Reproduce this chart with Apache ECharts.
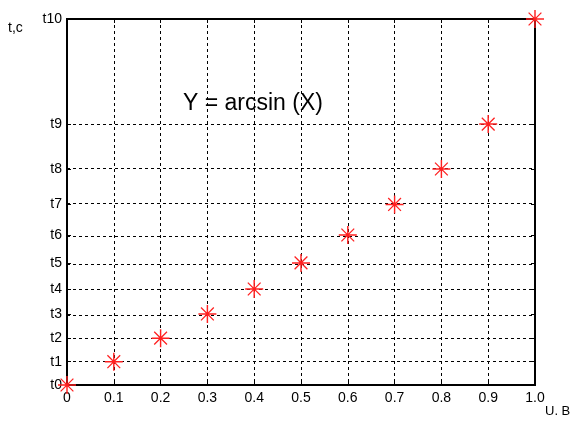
<!DOCTYPE html>
<html><head><meta charset="utf-8">
<script src="https://cdn.jsdelivr.net/npm/echarts@6/dist/echarts.min.js"></script>
<style>html,body{margin:0;padding:0;background:#fff}#c{width:572px;height:423px}</style>
</head><body><div id="c"></div>
<script>
// data
var xValues = [0, 0.1, 0.2, 0.3, 0.4, 0.5, 0.6, 0.7, 0.8, 0.9, 1.0];
var yValues = [0, 0.100, 0.201, 0.305, 0.412, 0.524, 0.644, 0.775, 0.927, 1.120, 1.571];
var yTickLabels = ['t0','t1','t2','t3','t4','t5','t6','t7','t8','t9','t10'];
var titleText = 'Y = arcsin (X)';
var xName = 'U. B';
var yName = 't,c';

var points = xValues.map(function(x, i){ return [x, yValues[i]]; });
var starPath = 'path://M0 46 H100 V54 H0 Z M46 0 H54 V100 H46 Z M12 17 L17 12 L88 83 L83 88 Z M83 12 L88 17 L17 88 L12 83 Z';
var font = 'Liberation Sans, Arial, sans-serif';
var yMax = yValues[yValues.length-1];

var chart = echarts.init(document.getElementById('c'), null, {renderer:'canvas'});
chart.setOption({
  animation: false,
  backgroundColor: '#fff',
  grid: {left: 67, right: 37, top: 19, bottom: 38, show: true, borderColor: '#000', borderWidth: 2, backgroundColor: 'transparent'},
  xAxis: [{
    type: 'value', min: 0, max: 1, interval: 0.1,
    axisLine: {show: true, onZero: false, lineStyle: {color: '#000', width: 2}},
    axisTick: {show: true, inside: true, length: 4, lineStyle: {color: '#000'}},
    axisLabel: {color: '#000', fontFamily: font, fontSize: 14, margin: 6,
      formatter: function(v){ return v === 0 ? '0' : v.toFixed(1); }},
    splitLine: {show: true, lineStyle: {color: '#000', type: [3, 3], width: 1}}
  }, {
    type: 'value', position: 'top', min: 0, max: 1, interval: 0.1,
    axisLine: {show: true, onZero: false, lineStyle: {color: '#000', width: 2}},
    axisTick: {show: true, inside: true, length: 4, lineStyle: {color: '#000'}},
    axisLabel: {show: false}, splitLine: {show: false}
  }],
  yAxis: [{
    type: 'value', min: 0, max: yMax,
    axisLine: {show: true, onZero: false, lineStyle: {color: '#000', width: 2}},
    axisTick: {show: true, inside: true, length: 4, customValues: yValues, lineStyle: {color: '#000'}},
    axisLabel: {color: '#000', fontFamily: font, fontSize: 14, margin: 5, customValues: yValues,
      formatter: function(v){ var i = yValues.indexOf(v); return i >= 0 ? yTickLabels[i] : ''; }},
    splitLine: {show: false}
  }, {
    type: 'value', position: 'right', min: 0, max: yMax,
    axisLine: {show: true, onZero: false, lineStyle: {color: '#000', width: 2}},
    axisTick: {show: true, inside: true, length: 4, customValues: yValues, lineStyle: {color: '#000'}},
    axisLabel: {show: false}, splitLine: {show: false}
  }],
  series: [{
    type: 'scatter',
    xAxisIndex: 0, yAxisIndex: 0,
    data: points,
    symbol: starPath,
    symbolSize: 18,
    clip: false,
    itemStyle: {color: '#ff2020', opacity: 1},
    z: 5,
    markLine: {
      silent: true, symbol: ['none','none'], animation: false,
      label: {show: false},
      lineStyle: {color: '#000', type: [3, 3], width: 1},
      data: yValues.slice(1, yValues.length-1).map(function(v){ return {yAxis: v}; })
    }
  }],
  graphic: [
    {type: 'text', left: 183, top: 92, style: {text: titleText, font: '23px ' + font, fill: '#000'}},
    {type: 'text', left: 8, top: 21, style: {text: yName, font: '14px ' + font, fill: '#000'}},
    {type: 'text', left: 545, top: 405, style: {text: xName, font: '13px ' + font, fill: '#000'}}
  ]
});
</script>
</body></html>
